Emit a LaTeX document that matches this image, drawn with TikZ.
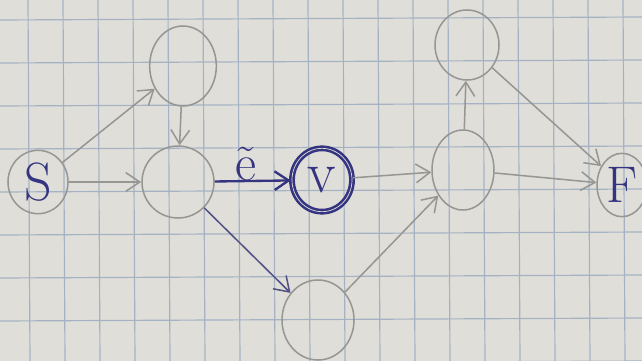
\documentclass[tikz,border=0pt]{standalone}
\usetikzlibrary{shapes.geometric,arrows.meta}
\definecolor{paper}{RGB}{224,222,216}
\definecolor{gridline}{RGB}{165,178,196}
\definecolor{pencil}{RGB}{150,150,148}
\definecolor{ink}{RGB}{52,52,128}
\tikzset{
  vtx/.style={ellipse,draw=pencil,line width=1.3pt,inner sep=0pt},
  edge/.style={draw=pencil,line width=1.3pt,-{Straight Barb[length=12pt,width=16pt]}},
  mark text/.style={text=ink,font=\fontsize{46}{50}\selectfont}
}
\begin{document}
\begin{tikzpicture}[x=0.3mm,y=-0.3mm]
 \fill[paper] (0,0) rectangle (642,361);
 \useasboundingbox (0,0) rectangle (642,361);
 % squared paper
 \foreach \gx in {0,...,18}{%
   \draw[gridline,line width=1pt] ({-7+35*\gx},0) -- ({-5+35*\gx},361);
 }
 \foreach \gy in {0,...,8}{%
   \draw[gridline,line width=1pt] (0,{20+43*\gy}) -- (642,{17+43*\gy});
 }
 % vertices
 \node[vtx,minimum width=18mm,minimum height=19mm,mark text] (s) at (38,182) {S};
 \node[vtx,minimum width=20mm,minimum height=24mm] (a) at (183,66) {};
 \node[vtx,minimum width=21.6mm,minimum height=21.6mm] (b) at (178,182) {};
 \node[vtx,draw=ink,line width=2.2pt,double=paper,double distance=0.6pt,minimum width=18mm,minimum height=19mm,mark text,font=\fontsize{50}{50}\selectfont] (v) at (322,180) {v};
 \node[vtx,minimum width=21.6mm,minimum height=24mm] (c) at (318,320) {};
 \node[vtx,minimum width=18.6mm,minimum height=24mm] (d) at (463,170) {};
 \node[vtx,minimum width=19.2mm,minimum height=21mm] (e) at (467,45) {};
 \node[vtx,minimum width=15mm,minimum height=19mm,mark text,font=\fontsize{44}{44}\selectfont] (f) at (622,185) {F};
 % arcs
 \draw[edge] (s) -- (a);
 \draw[edge] (s) -- (b);
 \draw[edge] (a) -- (b);
 \draw[edge,draw=ink,line width=2pt] (b) -- node[above left=-4pt,pos=0.55,mark text,font=\fontsize{44}{44}\selectfont] {\~{e}} (v);
 \draw[edge,draw=ink!70!pencil] (b) -- (c);
 \draw[edge] (v) -- (d);
 \draw[edge] (c) -- (d);
 \draw[edge] (d) -- (e);
 \draw[edge] (d) -- (f);
 \draw[edge] (e) -- (f);
\end{tikzpicture}
\end{document}
